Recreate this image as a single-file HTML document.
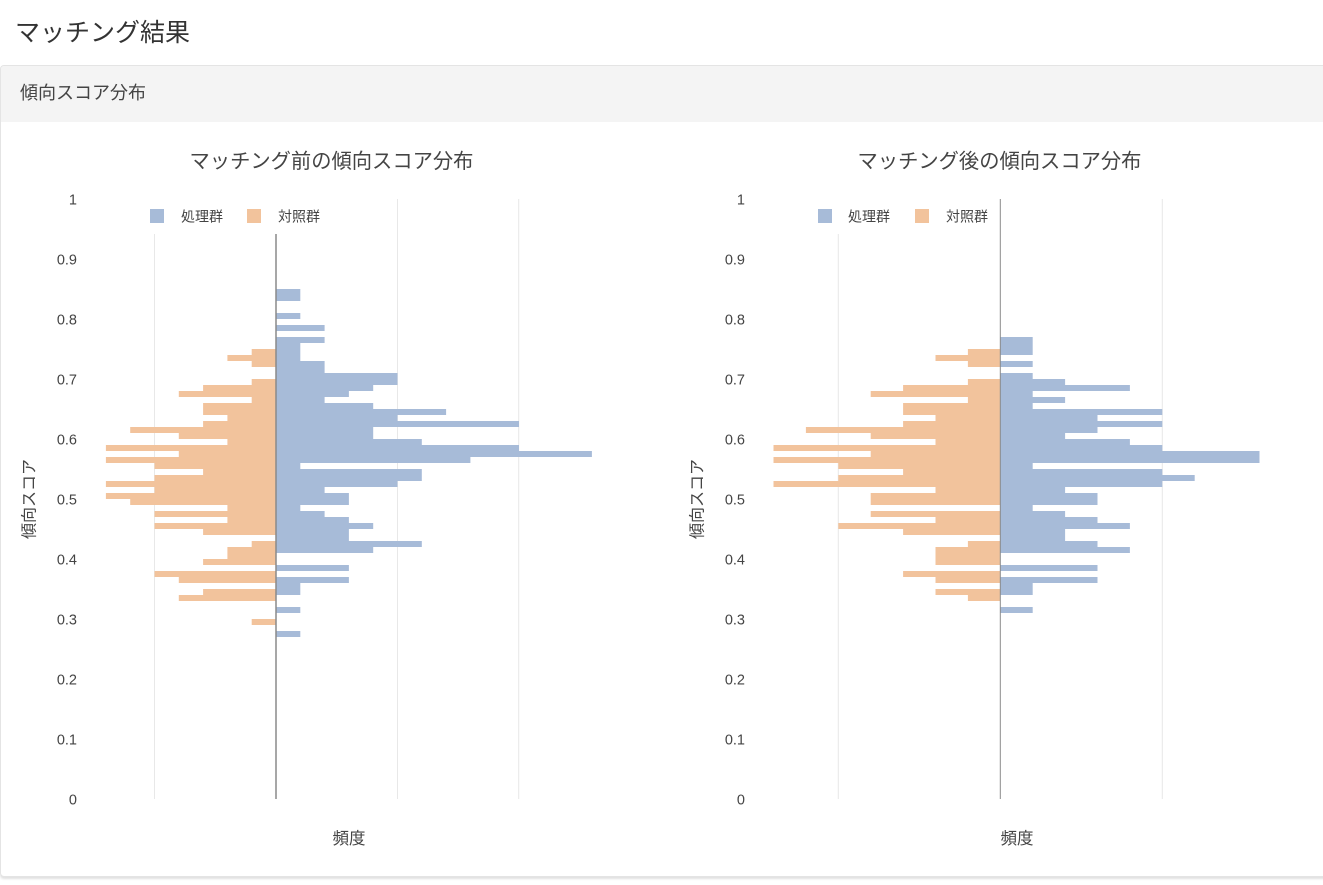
<!DOCTYPE html>
<html><head><meta charset="utf-8">
<style>
html,body{margin:0;padding:0;background:#fff;}
body{width:1323px;height:885px;overflow:hidden;position:relative;font-family:"Liberation Sans","Noto Sans CJK JP",sans-serif;}
.card{position:absolute;left:0;top:65px;width:1340px;height:812px;border:1px solid #e4e4e4;border-radius:4px;box-shadow:0 2px 2px rgba(0,0,0,0.12);background:#fff;overflow:hidden;box-sizing:border-box;}
.hdr{position:absolute;left:0;top:0;right:0;height:56px;background:#f4f4f4;}
svg{position:absolute;left:0;top:0;}
</style></head><body>
<div class="card"><div class="hdr"></div></div>
<svg width="1323" height="885" viewBox="0 0 1323 885" xmlns="http://www.w3.org/2000/svg" font-family="'Liberation Sans','Noto Sans CJK JP',sans-serif">
<text x="15" y="33" font-size="25" fill="#333" dominant-baseline="central">マッチング結果</text>
<text x="20" y="93" font-size="18" fill="#444" dominant-baseline="central">傾向スコア分布</text>

<!-- LEFT CHART -->
<text x="331.5" y="162" font-size="20.3" fill="#444" text-anchor="middle" dominant-baseline="central">マッチング前の傾向スコア分布</text>
<g stroke="#e8e8e8" stroke-width="1">
<line x1="154.5" y1="234" x2="154.5" y2="799"/>
<line x1="397.5" y1="199" x2="397.5" y2="799"/>
<line x1="518.7" y1="199" x2="518.7" y2="799"/>
</g>
<g font-size="14.5" fill="#444" text-anchor="end" dominant-baseline="central" transform="translate(0,1.5)">
<text x="77" y="799">0</text><text x="77" y="739">0.1</text><text x="77" y="679">0.2</text><text x="77" y="619">0.3</text><text x="77" y="559">0.4</text><text x="77" y="499">0.5</text><text x="77" y="439">0.6</text><text x="77" y="379">0.7</text><text x="77" y="319">0.8</text><text x="77" y="259">0.9</text><text x="77" y="199">1</text>
</g>
<text transform="translate(30,499) rotate(-90)" font-size="16" fill="#444" text-anchor="middle" dominant-baseline="central">傾向スコア</text>
<text x="349" y="839" font-size="16.5" fill="#444" text-anchor="middle" dominant-baseline="central">頻度</text>
<rect x="150" y="209" width="14" height="14" fill="#a7bbd8"/>
<text x="181" y="216.5" font-size="14" fill="#444" dominant-baseline="central">処理群</text>
<rect x="247" y="209" width="14" height="14" fill="#f2c39c"/>
<text x="278" y="216.5" font-size="14" fill="#444" dominant-baseline="central">対照群</text>

<g transform="translate(276,0)" fill="#a7bbd8">
<rect x="0" y="289" width="24.3" height="12"/>
<rect x="0" y="313" width="24.3" height="6"/>
<rect x="0" y="325" width="48.6" height="6"/>
<rect x="0" y="337" width="48.6" height="6"/>
<rect x="0" y="343" width="24.3" height="18"/>
<rect x="0" y="361" width="48.6" height="12"/>
<rect x="0" y="373" width="121.5" height="12"/>
<rect x="0" y="385" width="97.2" height="6"/>
<rect x="0" y="391" width="72.9" height="6"/>
<rect x="0" y="397" width="48.6" height="6"/>
<rect x="0" y="403" width="97.2" height="6"/>
<rect x="0" y="409" width="170.1" height="6"/>
<rect x="0" y="415" width="121.5" height="6"/>
<rect x="0" y="421" width="243" height="6"/>
<rect x="0" y="427" width="97.2" height="12"/>
<rect x="0" y="439" width="145.8" height="6"/>
<rect x="0" y="445" width="243" height="6"/>
<rect x="0" y="451" width="315.9" height="6"/>
<rect x="0" y="457" width="194.4" height="6"/>
<rect x="0" y="463" width="24.3" height="6"/>
<rect x="0" y="469" width="145.8" height="12"/>
<rect x="0" y="481" width="121.5" height="6"/>
<rect x="0" y="487" width="48.6" height="6"/>
<rect x="0" y="493" width="72.9" height="12"/>
<rect x="0" y="505" width="24.3" height="6"/>
<rect x="0" y="511" width="48.6" height="6"/>
<rect x="0" y="517" width="72.9" height="6"/>
<rect x="0" y="523" width="97.2" height="6"/>
<rect x="0" y="529" width="72.9" height="12"/>
<rect x="0" y="541" width="145.8" height="6"/>
<rect x="0" y="547" width="97.2" height="6"/>
<rect x="0" y="565" width="72.9" height="6"/>
<rect x="0" y="577" width="72.9" height="6"/>
<rect x="0" y="583" width="24.3" height="12"/>
<rect x="0" y="607" width="24.3" height="6"/>
<rect x="0" y="631" width="24.3" height="6"/>
</g>
<g transform="translate(276,0) scale(-1,1)" fill="#f2c39c">
<rect x="0" y="349" width="24.3" height="6"/>
<rect x="0" y="355" width="48.6" height="6"/>
<rect x="0" y="361" width="24.3" height="6"/>
<rect x="0" y="379" width="24.3" height="6"/>
<rect x="0" y="385" width="72.9" height="6"/>
<rect x="0" y="391" width="97.2" height="6"/>
<rect x="0" y="397" width="24.3" height="6"/>
<rect x="0" y="403" width="72.9" height="12"/>
<rect x="0" y="415" width="48.6" height="6"/>
<rect x="0" y="421" width="72.9" height="6"/>
<rect x="0" y="427" width="145.8" height="6"/>
<rect x="0" y="433" width="97.2" height="6"/>
<rect x="0" y="439" width="48.6" height="6"/>
<rect x="0" y="445" width="170.1" height="6"/>
<rect x="0" y="451" width="97.2" height="6"/>
<rect x="0" y="457" width="170.1" height="6"/>
<rect x="0" y="463" width="121.5" height="6"/>
<rect x="0" y="469" width="72.9" height="6"/>
<rect x="0" y="475" width="121.5" height="6"/>
<rect x="0" y="481" width="170.1" height="6"/>
<rect x="0" y="487" width="121.5" height="6"/>
<rect x="0" y="493" width="170.1" height="6"/>
<rect x="0" y="499" width="145.8" height="6"/>
<rect x="0" y="505" width="48.6" height="6"/>
<rect x="0" y="511" width="121.5" height="6"/>
<rect x="0" y="517" width="48.6" height="6"/>
<rect x="0" y="523" width="121.5" height="6"/>
<rect x="0" y="529" width="72.9" height="6"/>
<rect x="0" y="541" width="24.3" height="6"/>
<rect x="0" y="547" width="48.6" height="12"/>
<rect x="0" y="559" width="72.9" height="6"/>
<rect x="0" y="571" width="121.5" height="6"/>
<rect x="0" y="577" width="97.2" height="6"/>
<rect x="0" y="589" width="72.9" height="6"/>
<rect x="0" y="595" width="97.2" height="6"/>
<rect x="0" y="619" width="24.3" height="6"/>
</g>
<line x1="276" y1="234" x2="276" y2="799" stroke="#8a8a8a" stroke-width="1.5"/>

<!-- RIGHT CHART -->
<text x="999.5" y="162" font-size="20.3" fill="#444" text-anchor="middle" dominant-baseline="central">マッチング後の傾向スコア分布</text>
<g stroke="#e8e8e8" stroke-width="1">
<line x1="838.3" y1="234" x2="838.3" y2="799"/>
<line x1="1162.3" y1="199" x2="1162.3" y2="799"/>
</g>
<g font-size="14.5" fill="#444" text-anchor="end" dominant-baseline="central" transform="translate(0,1.5)">
<text x="745" y="799">0</text><text x="745" y="739">0.1</text><text x="745" y="679">0.2</text><text x="745" y="619">0.3</text><text x="745" y="559">0.4</text><text x="745" y="499">0.5</text><text x="745" y="439">0.6</text><text x="745" y="379">0.7</text><text x="745" y="319">0.8</text><text x="745" y="259">0.9</text><text x="745" y="199">1</text>
</g>
<text transform="translate(698,499) rotate(-90)" font-size="16" fill="#444" text-anchor="middle" dominant-baseline="central">傾向スコア</text>
<text x="1017" y="839" font-size="16.5" fill="#444" text-anchor="middle" dominant-baseline="central">頻度</text>
<rect x="818" y="209" width="14" height="14" fill="#a7bbd8"/>
<text x="848" y="216.5" font-size="14" fill="#444" dominant-baseline="central">処理群</text>
<rect x="915" y="209" width="14" height="14" fill="#f2c39c"/>
<text x="946" y="216.5" font-size="14" fill="#444" dominant-baseline="central">対照群</text>

<g transform="translate(1000.3,0)" fill="#a7bbd8">
<rect x="0" y="337" width="32.4" height="18"/>
<rect x="0" y="361" width="32.4" height="6"/>
<rect x="0" y="373" width="32.4" height="6"/>
<rect x="0" y="379" width="64.8" height="6"/>
<rect x="0" y="385" width="129.6" height="6"/>
<rect x="0" y="391" width="32.4" height="6"/>
<rect x="0" y="397" width="64.8" height="6"/>
<rect x="0" y="403" width="32.4" height="6"/>
<rect x="0" y="409" width="162" height="6"/>
<rect x="0" y="415" width="97.2" height="6"/>
<rect x="0" y="421" width="162" height="6"/>
<rect x="0" y="427" width="97.2" height="6"/>
<rect x="0" y="433" width="64.8" height="6"/>
<rect x="0" y="439" width="129.6" height="6"/>
<rect x="0" y="445" width="162" height="6"/>
<rect x="0" y="451" width="259.2" height="12"/>
<rect x="0" y="463" width="32.4" height="6"/>
<rect x="0" y="469" width="162" height="6"/>
<rect x="0" y="475" width="194.4" height="6"/>
<rect x="0" y="481" width="162" height="6"/>
<rect x="0" y="487" width="64.8" height="6"/>
<rect x="0" y="493" width="97.2" height="12"/>
<rect x="0" y="505" width="32.4" height="6"/>
<rect x="0" y="511" width="64.8" height="6"/>
<rect x="0" y="517" width="97.2" height="6"/>
<rect x="0" y="523" width="129.6" height="6"/>
<rect x="0" y="529" width="64.8" height="12"/>
<rect x="0" y="541" width="97.2" height="6"/>
<rect x="0" y="547" width="129.6" height="6"/>
<rect x="0" y="565" width="97.2" height="6"/>
<rect x="0" y="577" width="97.2" height="6"/>
<rect x="0" y="583" width="32.4" height="12"/>
<rect x="0" y="607" width="32.4" height="6"/>
</g>
<g transform="translate(1000.3,0) scale(-1,1)" fill="#f2c39c">
<rect x="0" y="349" width="32.4" height="6"/>
<rect x="0" y="355" width="64.8" height="6"/>
<rect x="0" y="361" width="32.4" height="6"/>
<rect x="0" y="379" width="32.4" height="6"/>
<rect x="0" y="385" width="97.2" height="6"/>
<rect x="0" y="391" width="129.6" height="6"/>
<rect x="0" y="397" width="32.4" height="6"/>
<rect x="0" y="403" width="97.2" height="12"/>
<rect x="0" y="415" width="64.8" height="6"/>
<rect x="0" y="421" width="97.2" height="6"/>
<rect x="0" y="427" width="194.4" height="6"/>
<rect x="0" y="433" width="129.6" height="6"/>
<rect x="0" y="439" width="64.8" height="6"/>
<rect x="0" y="445" width="226.8" height="6"/>
<rect x="0" y="451" width="129.6" height="6"/>
<rect x="0" y="457" width="226.8" height="6"/>
<rect x="0" y="463" width="162" height="6"/>
<rect x="0" y="469" width="97.2" height="6"/>
<rect x="0" y="475" width="162" height="6"/>
<rect x="0" y="481" width="226.8" height="6"/>
<rect x="0" y="487" width="64.8" height="6"/>
<rect x="0" y="493" width="129.6" height="12"/>
<rect x="0" y="511" width="129.6" height="6"/>
<rect x="0" y="517" width="64.8" height="6"/>
<rect x="0" y="523" width="162" height="6"/>
<rect x="0" y="529" width="97.2" height="6"/>
<rect x="0" y="541" width="32.4" height="6"/>
<rect x="0" y="547" width="64.8" height="18"/>
<rect x="0" y="571" width="97.2" height="6"/>
<rect x="0" y="577" width="64.8" height="6"/>
<rect x="0" y="589" width="64.8" height="6"/>
<rect x="0" y="595" width="32.4" height="6"/>
</g>
<line x1="1000.3" y1="199" x2="1000.3" y2="799" stroke="#8a8a8a" stroke-width="1"/>
</svg>
</body></html>
